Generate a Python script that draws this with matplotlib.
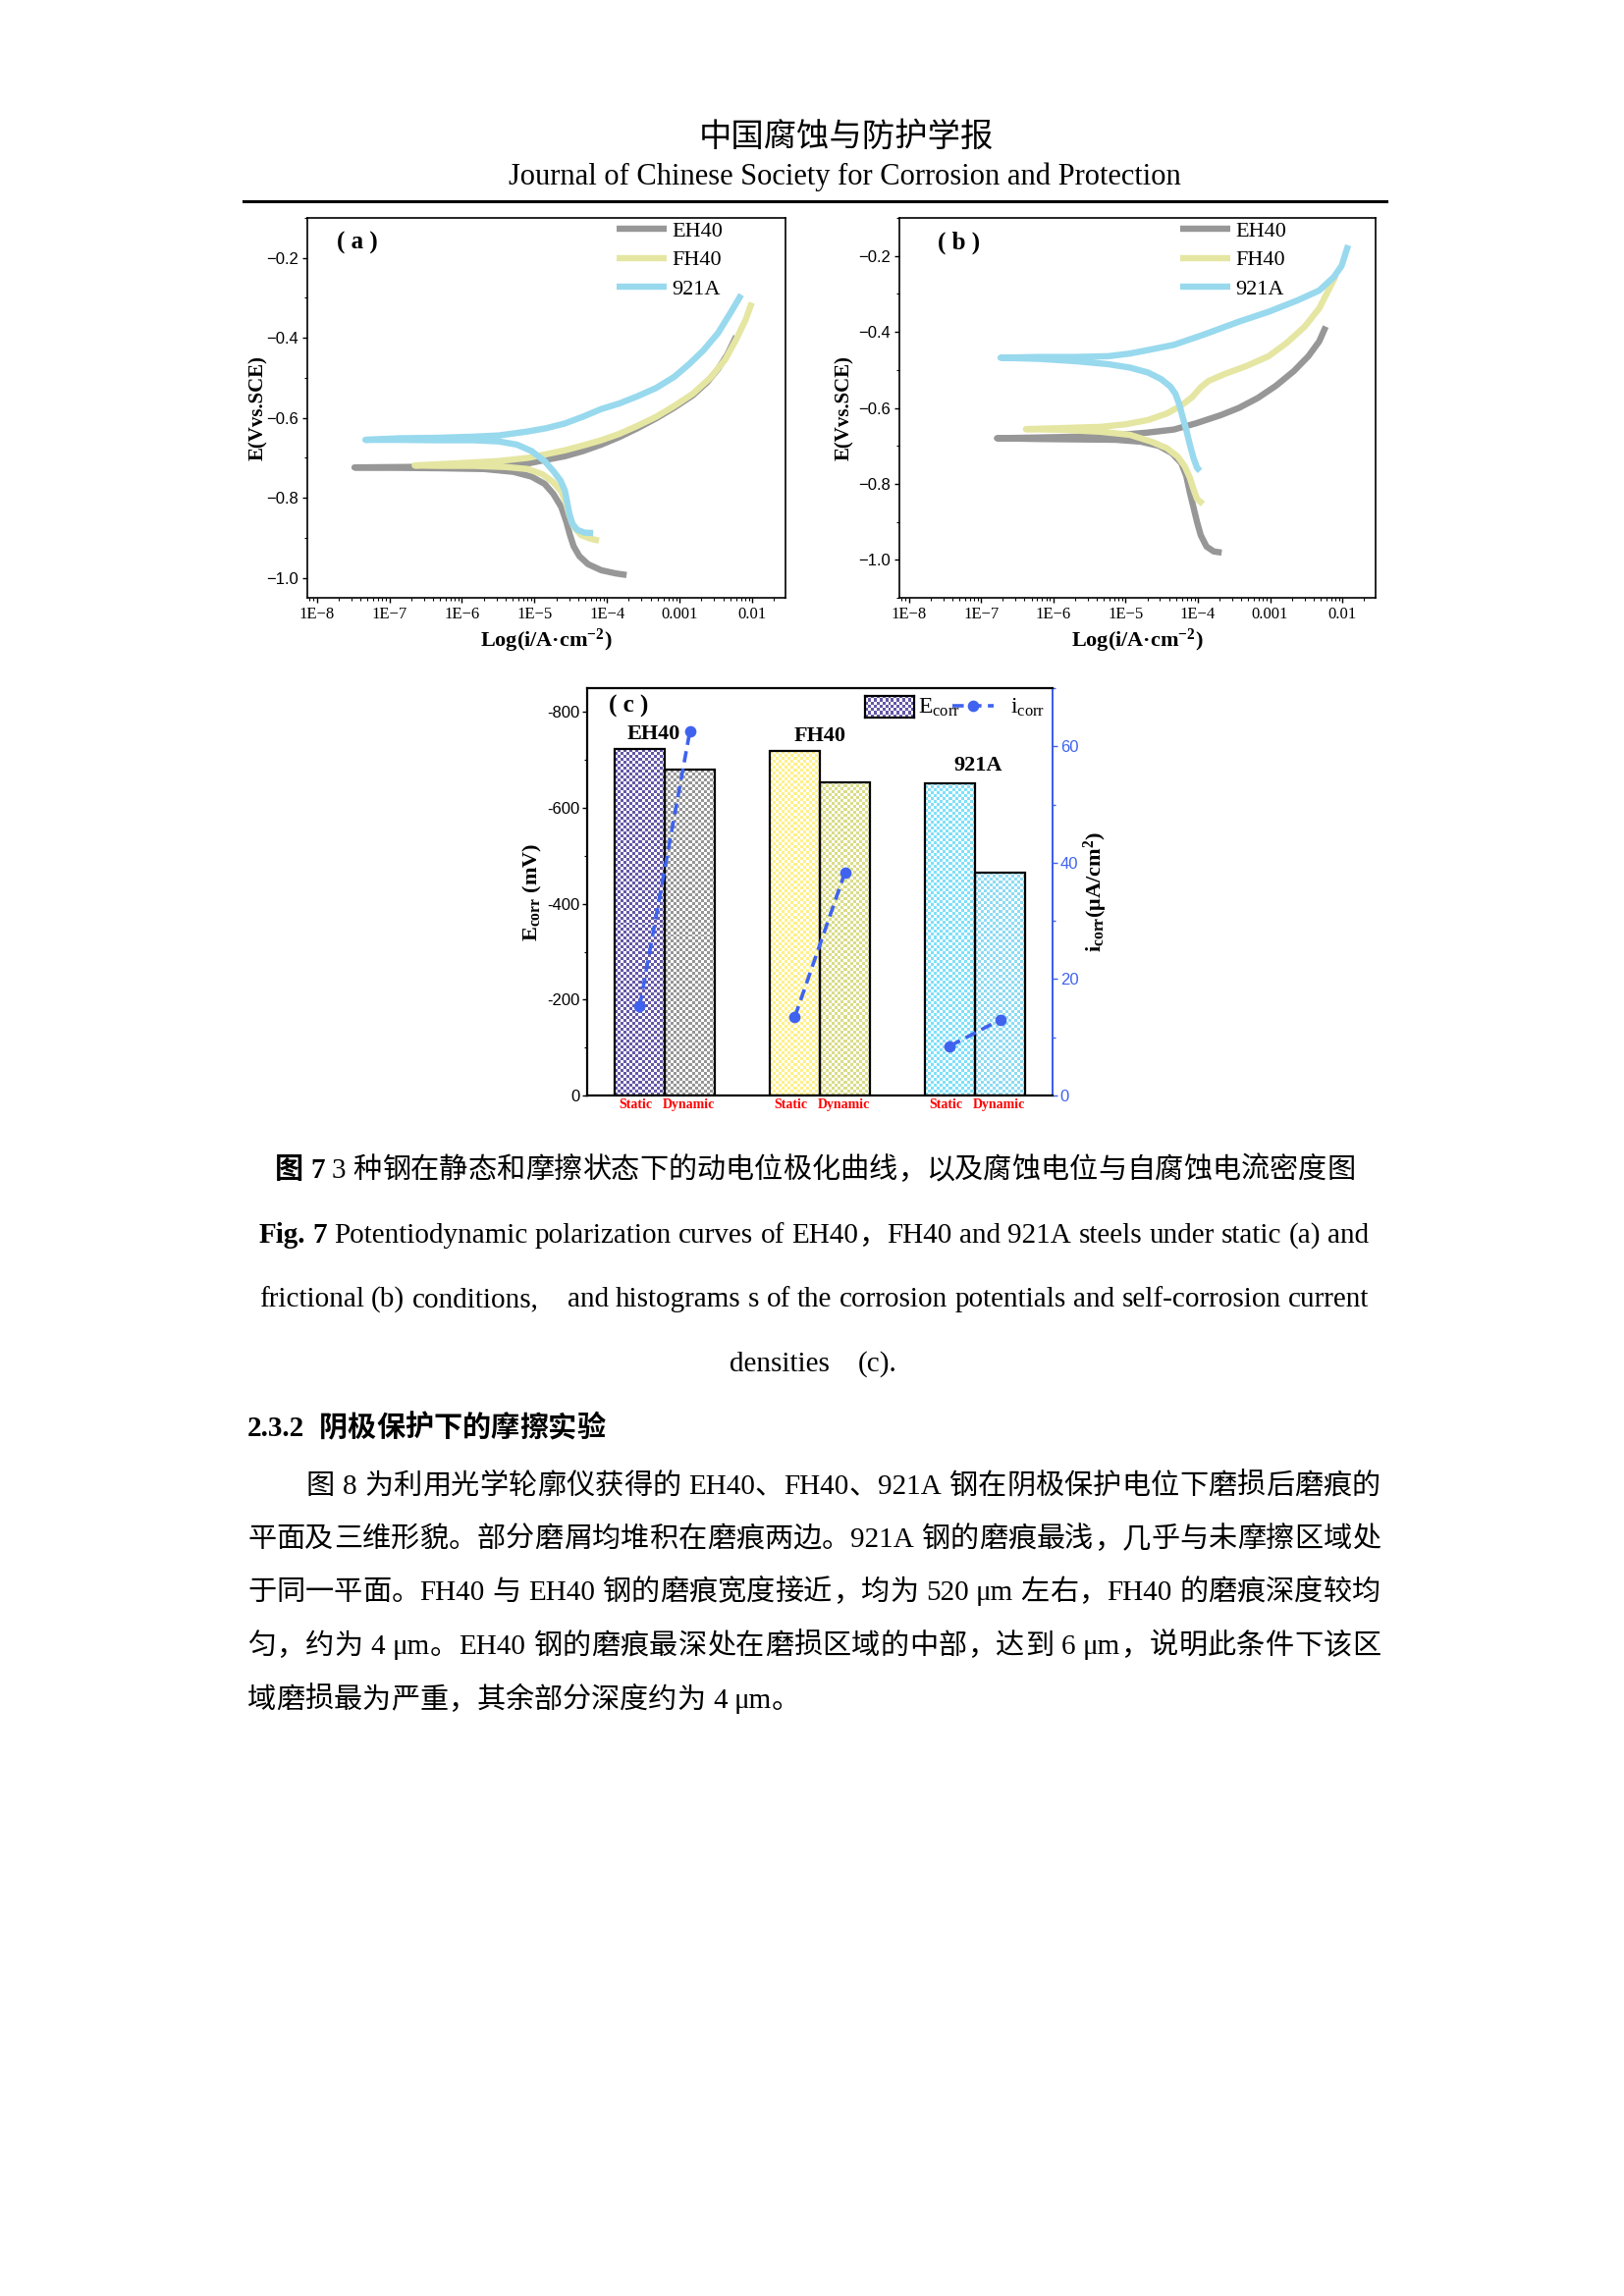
import re
import numpy as np
import matplotlib
matplotlib.use('Agg')
import matplotlib.pyplot as plt
import matplotlib.colors as mcolors
from matplotlib.ticker import LogLocator, NullFormatter, MultipleLocator, FuncFormatter

# ---------------- data ----------------
# panel (a): static, log10(i / A cm^-2) and E (V vs SCE), cathodic end -> Ecorr -> anodic end
a_eh40_logi = [-3.73, -3.88, -4.08, -4.26, -4.38, -4.46, -4.51, -4.56, -4.63, -4.74, -4.86, -5.04, -5.29, -5.69, -6.30, -6.90, -7.48,
               -6.90, -6.30, -5.69, -5.49, -5.09, -4.84, -4.58, -4.33, -4.08, -3.83, -3.58, -3.32, -3.07, -2.82, -2.62, -2.47, -2.34, -2.22]
a_eh40_e = [-0.993, -0.989, -0.981, -0.966, -0.946, -0.921, -0.893, -0.860, -0.823, -0.790, -0.765, -0.747, -0.735, -0.728, -0.726, -0.725, -0.724,
            -0.723, -0.722, -0.721, -0.720, -0.714, -0.705, -0.696, -0.683, -0.667, -0.648, -0.626, -0.601, -0.574, -0.544, -0.511, -0.478, -0.441, -0.396]
a_fh40_logi = [-4.11, -4.23, -4.36, -4.46, -4.52, -4.57, -4.63, -4.74, -4.89, -5.09, -5.39, -5.84, -6.30, -6.65,
               -6.10, -5.49, -5.09, -4.84, -4.58, -4.33, -4.08, -3.83, -3.58, -3.32, -3.07, -2.82, -2.57, -2.37, -2.22, -2.09, -2.005]
a_fh40_e = [-0.907, -0.902, -0.893, -0.872, -0.843, -0.810, -0.784, -0.761, -0.741, -0.728, -0.723, -0.720, -0.720, -0.719,
            -0.714, -0.708, -0.700, -0.691, -0.681, -0.669, -0.656, -0.640, -0.620, -0.597, -0.570, -0.540, -0.499, -0.454, -0.404, -0.355, -0.312]
a_921a_logi = [-4.19, -4.31, -4.41, -4.48, -4.52, -4.55, -4.58, -4.64, -4.74, -4.86, -5.04, -5.24, -5.49, -5.84, -6.35, -6.85, -7.33,
               -6.85, -6.35, -5.84, -5.49, -5.09, -4.84, -4.58, -4.33, -4.08, -3.83, -3.58, -3.32, -3.07, -2.87, -2.67, -2.47, -2.29, -2.15]
a_921a_e = [-0.888, -0.887, -0.880, -0.864, -0.839, -0.810, -0.782, -0.757, -0.733, -0.708, -0.683, -0.667, -0.659, -0.656, -0.656, -0.655, -0.655,
            -0.651, -0.650, -0.647, -0.644, -0.634, -0.626, -0.614, -0.597, -0.578, -0.564, -0.546, -0.525, -0.497, -0.466, -0.431, -0.388, -0.335, -0.292]

# panel (b): frictional
b_eh40_logi = [-3.67, -3.78, -3.88, -3.96, -4.01, -4.06, -4.11, -4.16, -4.23, -4.36, -4.54, -4.79, -5.14, -5.70, -6.20, -6.78,
               -6.20, -5.70, -5.14, -4.69, -4.33, -4.03, -3.68, -3.43, -3.17, -2.92, -2.67, -2.47, -2.32, -2.23]
b_eh40_e = [-0.981, -0.978, -0.965, -0.935, -0.901, -0.862, -0.823, -0.779, -0.745, -0.719, -0.700, -0.689, -0.684, -0.683, -0.682, -0.680,
            -0.678, -0.676, -0.672, -0.665, -0.657, -0.641, -0.619, -0.600, -0.574, -0.542, -0.503, -0.464, -0.425, -0.386]
b_fh40_logi = [-3.93, -4.01, -4.06, -4.11, -4.18, -4.28, -4.43, -4.64, -4.94, -5.34, -5.85, -6.38,
               -5.85, -5.34, -4.99, -4.69, -4.43, -4.23, -4.08, -3.96, -3.85, -3.63, -3.33, -3.02, -2.77, -2.52, -2.32, -2.09]
b_fh40_e = [-0.853, -0.840, -0.814, -0.784, -0.754, -0.728, -0.706, -0.689, -0.671, -0.663, -0.658, -0.656,
            -0.653, -0.650, -0.643, -0.632, -0.615, -0.594, -0.572, -0.546, -0.529, -0.511, -0.490, -0.464, -0.429, -0.386, -0.338, -0.252]
b_921a_logi = [-3.97, -4.01, -4.06, -4.11, -4.16, -4.21, -4.26, -4.31, -4.38, -4.51, -4.69, -4.94, -5.24, -5.70, -6.20, -6.73,
               -6.20, -5.70, -5.24, -4.94, -4.64, -4.33, -3.93, -3.43, -3.02, -2.62, -2.32, -2.12, -2.01, -1.92]
b_921a_e = [-0.766, -0.758, -0.732, -0.697, -0.658, -0.624, -0.589, -0.563, -0.544, -0.524, -0.507, -0.494, -0.485, -0.477, -0.471, -0.468,
            -0.466, -0.466, -0.464, -0.457, -0.446, -0.434, -0.408, -0.373, -0.347, -0.317, -0.291, -0.256, -0.226, -0.172]

# panel (c)
materials = ['EH40', 'FH40', '921A']
ecorr_static = [722, 718, 652]      # -mV
ecorr_dynamic = [680, 654, 465]
icorr_static = [15.3, 13.5, 8.5]    # uA/cm2
icorr_dynamic = [62.5, 38.3, 13.0]

xtick_vals = [1e-8, 1e-7, 1e-6, 1e-5, 1e-4, 1e-3, 1e-2]
xtick_labels = ['1E\u22128', '1E\u22127', '1E\u22126', '1E\u22125', '1E\u22124', '0.001', '0.01']

# ---------------- styles ----------------
W, H = 1654, 2339
FAM = ['Liberation Serif', 'Noto Sans CJK SC']
plt.rcParams['font.family'] = FAM
plt.rcParams['mathtext.fontset'] = 'custom'
plt.rcParams['mathtext.rm'] = 'Liberation Serif'
plt.rcParams['mathtext.it'] = 'Liberation Serif:italic'
plt.rcParams['mathtext.bf'] = 'Liberation Serif:bold'

GRAY = '#979797'
YELLOW = '#e5e6a2'
CYAN = '#98d9ee'
BLUE = '#3f63ee'

fig = plt.figure(figsize=(8.27, 11.695), dpi=200)
renderer = fig.canvas.get_renderer()


def fr(x0, y0, x1, y1):
    return [x0 / W, 1 - y1 / H, (x1 - x0) / W, (y1 - y0) / H]


def pol_panel(ax, curves, ylim, tag, leg_x):
    for name, li, e, col in curves:
        ax.plot(10 ** np.array(li), e, color=col, lw=2.3, label=name,
                solid_capstyle='butt', solid_joinstyle='round')
    ax.set_xscale('log')
    ax.set_xlim(10 ** -8.13, 10 ** -1.54)
    ax.set_ylim(*ylim)
    ax.set_xticks(xtick_vals)
    ax.set_xticklabels(xtick_labels, fontsize=6, family='Liberation Serif')
    ax.xaxis.set_minor_locator(LogLocator(base=10, subs=np.arange(2, 10) * 1.0, numticks=20))
    ax.xaxis.set_minor_formatter(NullFormatter())
    ax.set_yticks([-1.0, -0.8, -0.6, -0.4, -0.2])
    ax.yaxis.set_minor_locator(MultipleLocator(0.1))
    ax.yaxis.set_major_formatter(FuncFormatter(lambda v, p: ('%.1f' % v).replace('-', '\u2212')))
    for lab in ax.get_yticklabels():
        lab.set_family('Liberation Sans')
        lab.set_fontsize(6)
    ax.tick_params(which='major', direction='out', length=1.8, width=0.5, pad=1.5)
    ax.tick_params(which='minor', direction='out', length=1.0, width=0.4)
    for s in ax.spines.values():
        s.set_linewidth(0.6)
    ax.set_ylabel('E(Vvs.SCE)', fontsize=7.5, weight='bold')
    ax.set_xlabel(r'Log(i/A·cm$^{\mathbf{-2}}$)', fontsize=8, weight='bold')
    ax.text(tag[1], 0.935, tag[0], transform=ax.transAxes, fontsize=9, weight='bold', ha='center', va='center')
    ax.legend(loc='upper left', bbox_to_anchor=(leg_x, 1.003), frameon=False, fontsize=8,
              handlelength=2.3, handletextpad=0.25, labelspacing=0.4, borderaxespad=0, borderpad=0.2)


axA = fig.add_axes(fr(313, 222, 800, 609))
pol_panel(axA, [('EH40', a_eh40_logi, a_eh40_e, GRAY), ('FH40', a_fh40_logi, a_fh40_e, YELLOW),
                ('921A', a_921a_logi, a_921a_e, CYAN)], (-1.05, -0.10), ('( a )', 0.105), 0.637)
axA.yaxis.set_label_coords(-0.082, 0.5)
axA.xaxis.set_label_coords(0.5, -0.078)

axB = fig.add_axes(fr(916, 222, 1401, 609))
pol_panel(axB, [('EH40', b_eh40_logi, b_eh40_e, GRAY), ('FH40', b_fh40_logi, b_fh40_e, YELLOW),
                ('921A', b_921a_logi, b_921a_e, CYAN)], (-1.10, -0.10), ('( b )', 0.125), 0.58)
axB.yaxis.set_label_coords(-0.095, 0.5)
axB.xaxis.set_label_coords(0.5, -0.078)

# ---------------- panel (c) ----------------
static_cols = ['#6458a6', '#fff08a', '#7fe0f8']
dynamic_cols = ['#969696', '#dadc88', '#8edbf2']


def checker(ax, x0, y0, w, h, color, cell=3.0, zorder=2):
    (px0, py0), (px1, py1) = ax.transData.transform([(x0, y0), (x0 + w, y0 + h)])
    nx = max(1, int(round(abs(px1 - px0) / cell)))
    ny = max(1, int(round(abs(py1 - py0) / cell)))
    img = np.ones((ny, nx, 3))
    mask = np.add.outer(np.arange(ny), np.arange(nx)) % 2 == 0
    img[mask] = mcolors.to_rgb(color)
    ax.imshow(img, extent=(x0, x0 + w, y0, y0 + h), origin='lower', interpolation='nearest',
              aspect='auto', zorder=zorder)


axC = fig.add_axes(fr(598, 701, 1072, 1116))
x = np.arange(1, len(materials) + 1)
bw = 0.323
axC.set_xlim(0.5, 3.5)
axC.set_ylim(0, 850)
bars_s = axC.bar(x - bw / 2, ecorr_static, bw, facecolor='none', edgecolor='black', lw=0.8, zorder=3)
bars_d = axC.bar(x + bw / 2, ecorr_dynamic, bw, facecolor='none', edgecolor='black', lw=0.8, zorder=3)
for bars, cols in ((bars_s, static_cols), (bars_d, dynamic_cols)):
    for p, c in zip(bars.patches, cols):
        checker(axC, p.get_x(), p.get_y(), p.get_width(), p.get_height(), c)
axC.set_xlim(0.5, 3.5)
axC.set_ylim(0, 850)
axC.set_xticks([])
axC.set_yticks([0, 200, 400, 600, 800])
axC.yaxis.set_minor_locator(MultipleLocator(100))
axC.yaxis.set_major_formatter(FuncFormatter(lambda v, p: '0' if v == 0 else '-%d' % v))
for lab in axC.get_yticklabels():
    lab.set_family('Liberation Sans')
    lab.set_fontsize(6)
axC.tick_params(which='major', direction='out', length=1.8, width=0.5, pad=1)
axC.tick_params(which='minor', direction='out', length=1.0, width=0.4)
for s in axC.spines.values():
    s.set_linewidth(0.7)
axC.set_ylabel(r'E$_{\mathbf{corr}}$ (mV)', fontsize=8, weight='bold')
axC.yaxis.set_label_coords(-0.092, 0.5)

label_pos = [(0.93, 754), (2.0, 750), (3.02, 688)]
for m, (lx, ly) in zip(materials, label_pos):
    axC.text(lx, ly, m, fontsize=8, weight='bold', ha='center', va='center')
for xi in x:
    axC.text(xi - 0.19, -0.024, 'Static', transform=axC.get_xaxis_transform(), color='red',
             fontsize=5, weight='bold', ha='center', va='center')
    axC.text(xi + 0.155, -0.024, 'Dynamic', transform=axC.get_xaxis_transform(), color='red',
             fontsize=5, weight='bold', ha='center', va='center')
axC.text(0.09, 0.955, '( c )', transform=axC.transAxes, fontsize=9, weight='bold', ha='center', va='center')

ax2 = axC.twinx()
ax2.set_ylim(0, 70)
lines = []
for i in range(len(materials)):
    ln, = ax2.plot([x[i] - bw / 2, x[i] + bw / 2], [icorr_static[i], icorr_dynamic[i]], ls='--', marker='o',
                   color=BLUE, lw=1.3, ms=3.2, dashes=(3.2, 1.8))
    lines.append(ln)
ax2.set_xlim(0.5, 3.5)
ax2.set_yticks([0, 20, 40, 60])
ax2.yaxis.set_minor_locator(MultipleLocator(10))
for lab in ax2.get_yticklabels():
    lab.set_family('Liberation Sans')
    lab.set_fontsize(6)
ax2.tick_params(which='both', direction='out', colors=BLUE, width=0.5)
ax2.tick_params(which='major', length=1.8, pad=1)
ax2.tick_params(which='minor', length=1.0)
ax2.spines['right'].set_color(BLUE)
ax2.spines['right'].set_linewidth(0.7)
ax2.set_ylabel(r'i$_{\mathbf{corr}}$(μA/cm$^{\mathbf{2}}$)', fontsize=8, weight='bold', color='black')
ax2.yaxis.set_label_coords(1.062, 0.5)

# legend
legbox = axC.inset_axes([0.598, 0.927, 0.105, 0.054])
legbox.set_xlim(0, 1)
legbox.set_ylim(0, 1)
checker(legbox, 0, 0, 1, 1, static_cols[0])
legbox.set_xlim(0, 1)
legbox.set_ylim(0, 1)
legbox.set_xticks([])
legbox.set_yticks([])
for s in legbox.spines.values():
    s.set_linewidth(0.8)
axC.text(0.712, 0.952, r'E$_{\rm corr}$', transform=axC.transAxes, fontsize=8.5, va='center', ha='left')
ax2.legend(handles=[lines[0]], labels=[r'i$_{\rm corr}$'], loc='center left', bbox_to_anchor=(0.784, 0.952),
           frameon=False, fontsize=8.5, handlelength=1.8, handletextpad=0.7, borderpad=0, borderaxespad=0)

# ---------------- page text ----------------
CJK = '\u3000-\u303f\uff00-\uffef\u4e00-\u9fff'
tok_re = re.compile('[' + CJK + ']|[^\\s' + CJK + ']+|\\s+')


def put_line(segs, ybase, x0=None, x1=None, center=None, size=10.5):
    em = size * 200 / 72.0
    items = []
    for text, weight in segs:
        for tok in tok_re.findall(text):
            items.append((tok, weight))
    widths = []
    for tok, wgt in items:
        if tok.isspace():
            widths.append(0.25 * em * len(tok))
        elif re.match('[' + CJK + ']', tok):
            widths.append(em)
        else:
            t = fig.text(0, 0, tok, fontsize=size, weight=wgt, family=FAM)
            widths.append(t.get_window_extent(renderer).width)
            t.remove()
    total = sum(widths)
    gap = 0.0
    if center is not None:
        x0 = center - total / 2
    elif x1 is not None and len(items) > 1:
        gap = (x1 - x0 - total) / (len(items) - 1)
    xx = x0
    for (tok, wgt), wd in zip(items, widths):
        if not tok.isspace():
            fig.text(xx / W, 1 - ybase / H, tok, fontsize=size, weight=wgt, family=FAM,
                     ha='left', va='baseline')
        xx += wd + gap


fig.text(862 / W, 1 - 140 / H, '中国腐蚀与防护学报', fontsize=12, family=FAM, ha='center', va='center')
fig.text(860 / W, 1 - 180 / H, 'Journal of Chinese Society for Corrosion and Protection', fontsize=11,
         family=FAM, ha='center', va='center')
fig.add_artist(plt.Line2D([248 / W, 1412 / W], [1 - 204.5 / H, 1 - 204.5 / H], color='black', lw=1.1))

put_line([('图 7', 'bold'), (' 3 种钢在静态和摩擦状态下的动电位极化曲线，以及腐蚀电位与自腐蚀电流密度图', 'normal')], 1200, center=830)
put_line([('Fig. 7', 'bold'), (' Potentiodynamic polarization curves of EH40，FH40 and 921A steels under static (a) and', 'normal')], 1266, center=829)
put_line([('frictional (b) conditions,    and histograms s of the corrosion potentials and self-corrosion current', 'normal')], 1331, center=829)
put_line([('densities    (c).', 'normal')], 1397, center=828)

put_line([('2.3.2  阴极保护下的摩擦实验', 'bold')], 1463, x0=252)
body = [
    ('图 8 为利用光学轮廓仪获得的 EH40、FH40、921A 钢在阴极保护电位下磨损后磨痕的', 1522, 312, 1406),
    ('平面及三维形貌。部分磨屑均堆积在磨痕两边。921A 钢的磨痕最浅，几乎与未摩擦区域处', 1576, 252, 1406),
    ('于同一平面。FH40 与 EH40 钢的磨痕宽度接近，均为 520 μm 左右，FH40 的磨痕深度较均', 1630, 252, 1406),
    ('匀，约为 4 μm。EH40 钢的磨痕最深处在磨损区域的中部，达到 6 μm，说明此条件下该区', 1685, 252, 1406),
    ('域磨损最为严重，其余部分深度约为 4 μm。', 1740, 252, None),
]
for text, yb, xs, xe in body:
    put_line([(text, 'normal')], yb, x0=xs, x1=xe)

fig.savefig('out.png', dpi=200)
